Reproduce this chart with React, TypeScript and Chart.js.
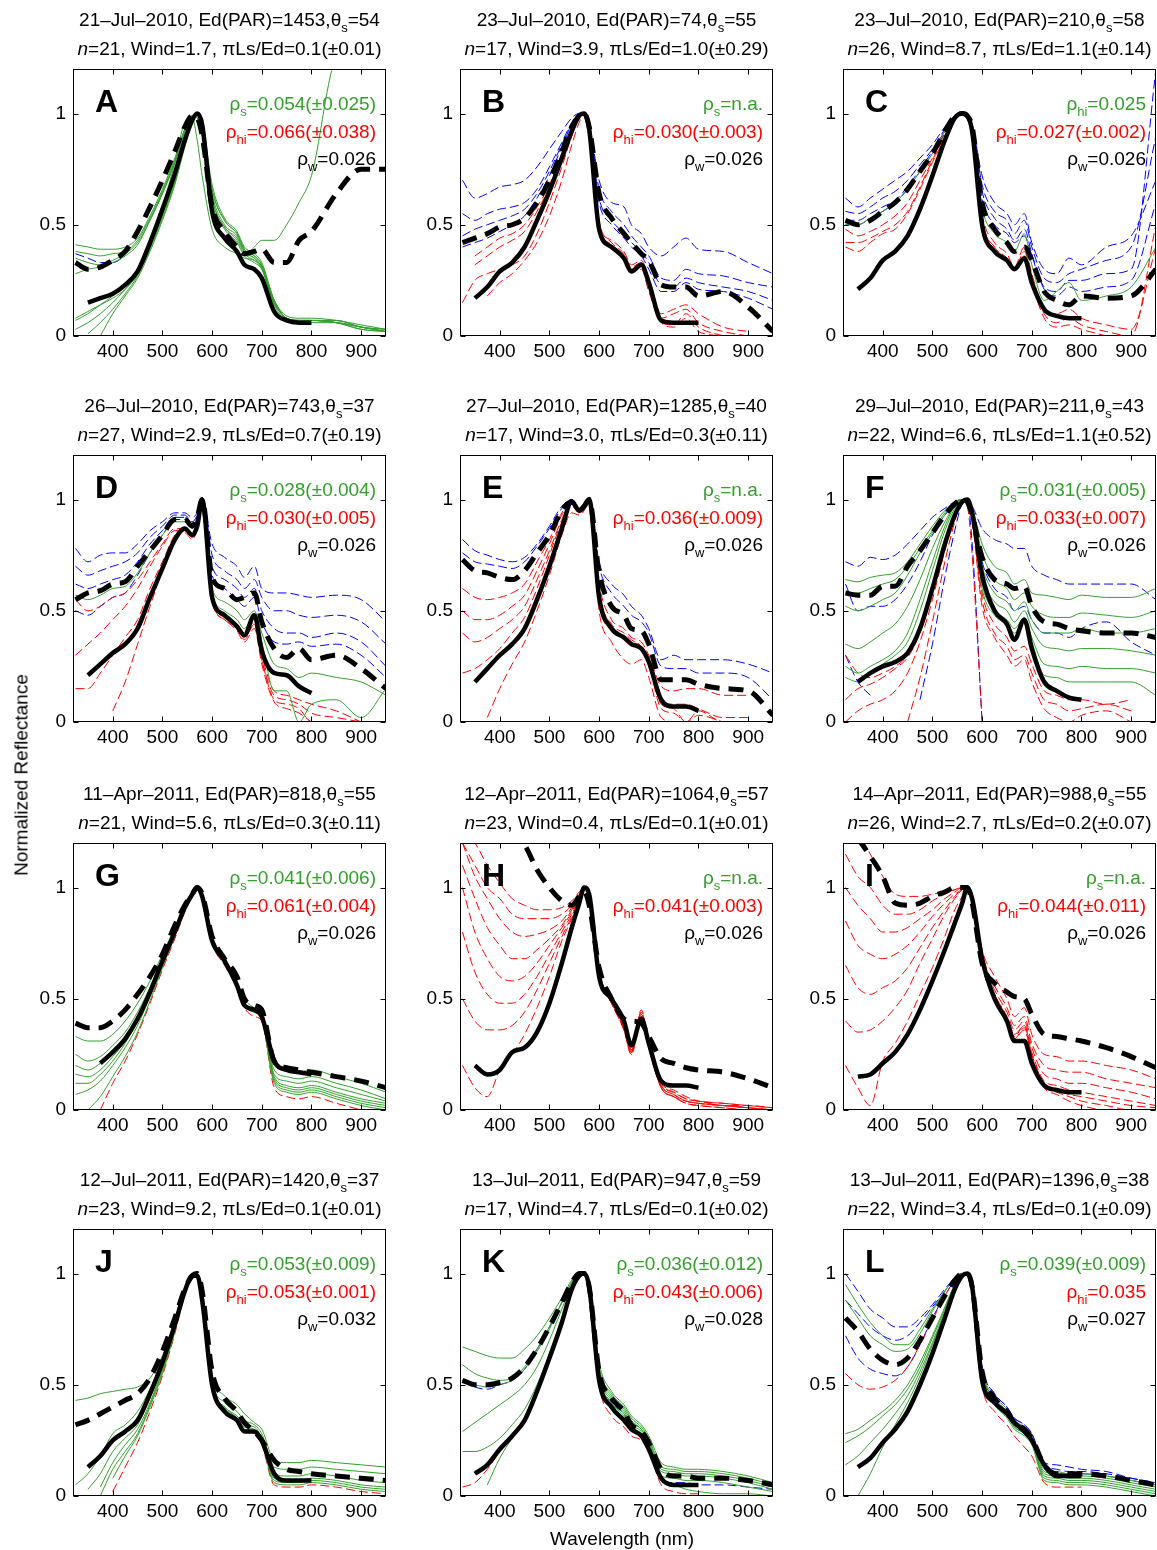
import React, { useEffect, useRef } from 'react';
import { Chart, registerables } from 'chart.js';
Chart.register(...registerables);

const FAM = '"Liberation Sans", Arial, Helvetica, sans-serif';
const GREEN = '#33a02c';
const RED = '#ff0000';
const BLUE = '#0000ff';

// wavelength grid (nm)
const WL = [325, 350, 375, 400, 425, 450, 475, 500, 525, 545, 560, 570, 580, 600, 625, 650, 665, 685, 700, 725, 750, 775, 800, 850, 900, 950];
const X_TICKS = [400, 500, 600, 700, 800, 900];
const Y_TICKS = [0, 0.5, 1];

const LETTERS = ['A', 'B', 'C', 'D', 'E', 'F', 'G', 'H', 'I', 'J', 'K', 'L'];
const DATES = ['21–Jul–2010', '23–Jul–2010', '23–Jul–2010', '26–Jul–2010', '27–Jul–2010', '29–Jul–2010', '11–Apr–2011', '12–Apr–2011', '14–Apr–2011', '12–Jul–2011', '13–Jul–2011', '13–Jul–2011'];
const ED_PAR = ['1453', '74', '210', '743', '1285', '211', '818', '1064', '988', '1420', '947', '1396'];
const THETA_S = ['54', '55', '58', '37', '40', '43', '55', '57', '55', '37', '59', '38'];
const N_OBS = ['21', '17', '26', '27', '17', '22', '21', '23', '26', '23', '17', '22'];
const WIND = ['1.7', '3.9', '8.7', '2.9', '3.0', '6.6', '5.6', '0.4', '2.7', '9.2', '4.7', '3.4'];
const LS_ED = ['0.1(±0.01)', '1.0(±0.29)', '1.1(±0.14)', '0.7(±0.19)', '0.3(±0.11)', '1.1(±0.52)', '0.3(±0.11)', '0.1(±0.01)', '0.2(±0.07)', '0.1(±0.01)', '0.1(±0.02)', '0.1(±0.09)'];
const RHO_S_SUB = ['s', 's', 'hi', 's', 's', 's', 's', 's', 's', 's', 's', 's'];
const RHO_S = ['0.054(±0.025)', 'n.a.', '0.025', '0.028(±0.004)', 'n.a.', '0.031(±0.005)', '0.041(±0.006)', 'n.a.', 'n.a.', '0.053(±0.009)', '0.036(±0.012)', '0.039(±0.009)'];
const RHO_HI = ['0.066(±0.038)', '0.030(±0.003)', '0.027(±0.002)', '0.030(±0.005)', '0.036(±0.009)', '0.033(±0.007)', '0.061(±0.004)', '0.041(±0.003)', '0.044(±0.011)', '0.053(±0.001)', '0.043(±0.006)', '0.035'];
const RHO_W = ['0.026', '0.026', '0.026', '0.026', '0.026', '0.026', '0.026', '0.026', '0.026', '0.032', '0.028', '0.027'];

// ---------- Panel A ----------
const A_SOLID = [null, 0.15, 0.17, 0.19, 0.23, 0.29, 0.42, 0.57, 0.73, 0.88, 0.97, 1.0, 0.95, 0.56, 0.44, 0.38, 0.32, 0.30, 0.26, 0.11, 0.07, 0.06, 0.06];
const A_DASHED = [0.33, 0.30, 0.31, 0.34, 0.38, 0.47, 0.58, 0.70, 0.83, 0.94, 0.99, 0.98, 0.90, 0.58, 0.47, 0.40, 0.37, 0.38, 0.39, 0.33, 0.33, 0.43, 0.47, 0.64, 0.75, 0.75];
const A_GREEN = [
  [0.41, 0.40, 0.39, 0.39, 0.40, 0.44, 0.54, 0.66, 0.80, 0.93, 0.99, 0.98, 0.90, 0.56, 0.44, 0.38, 0.36, 0.40, 0.43, 0.43, 0.50, 0.60, 0.72, 1.25, 1.3, 1.3],
  [0.38, 0.37, 0.36, 0.37, 0.38, 0.43, 0.53, 0.65, 0.79, 0.93, 0.99, 0.98, 0.92, 0.60, 0.48, 0.42, 0.36, 0.33, 0.30, 0.15, 0.08, 0.07, 0.07, 0.07, 0.04, 0.03],
  [0.35, 0.33, 0.32, 0.34, 0.37, 0.42, 0.52, 0.64, 0.78, 0.92, 0.99, 0.99, 0.93, 0.62, 0.49, 0.43, 0.37, 0.34, 0.31, 0.15, 0.08, 0.07, 0.07, 0.06, 0.04, 0.02],
  [0.28, 0.30, 0.31, 0.33, 0.36, 0.41, 0.52, 0.64, 0.78, 0.92, 0.99, 0.99, 0.94, 0.62, 0.49, 0.44, 0.38, 0.35, 0.31, 0.16, 0.09, 0.08, 0.08, 0.07, 0.05, 0.03],
  [0.07, 0.10, 0.14, 0.18, 0.23, 0.30, 0.42, 0.56, 0.72, 0.88, 0.98, 1.0, 0.95, 0.64, 0.50, 0.45, 0.38, 0.35, 0.31, 0.15, 0.08, 0.07, 0.07, 0.07, 0.04, 0.03],
  [0.03, 0.06, 0.10, 0.15, 0.21, 0.28, 0.40, 0.54, 0.70, 0.87, 0.97, 1.0, 0.96, 0.66, 0.52, 0.46, 0.39, 0.36, 0.32, 0.16, 0.08, 0.07, 0.07, 0.06, 0.04, 0.02],
  [null, 0.01, 0.06, 0.12, 0.19, 0.27, 0.39, 0.53, 0.69, 0.86, 0.97, 1.0, 0.96, 0.66, 0.52, 0.46, 0.39, 0.36, 0.32, 0.16, 0.08, 0.07, 0.07, 0.06, 0.03, 0.02],
  [null, null, 0.0, 0.10, 0.18, 0.26, 0.38, 0.52, 0.68, 0.85, 0.96, 1.0, 0.97, 0.68, 0.53, 0.47, 0.40, 0.37, 0.33, 0.16, 0.08, 0.07, 0.07, 0.06, 0.03, 0.02],
  [0.08, 0.11, 0.14, 0.17, 0.21, 0.28, 0.42, 0.58, 0.78, 0.96, 0.98, 0.88, 0.72, 0.48, 0.40, 0.37, 0.35, 0.34, 0.30, 0.14, 0.07, 0.06, 0.06, 0.06, 0.04, 0.02],
];
const A_RED: number[][] = [];
const A_BLUE = [[0.37, 0.35, 0.33, 0.33, 0.36]];

// ---------- Panel B ----------
const B_SOLID = [null, 0.17, 0.22, 0.29, 0.33, 0.40, 0.52, 0.65, 0.80, 0.92, 0.99, 1.0, 0.93, 0.48, 0.40, 0.35, 0.29, 0.32, 0.24, 0.07, 0.06, 0.06, 0.06];
const B_DASHED = [0.42, 0.44, 0.46, 0.49, 0.50, 0.53, 0.60, 0.70, 0.83, 0.94, 0.99, 1.0, 0.94, 0.64, 0.53, 0.46, 0.42, 0.37, 0.34, 0.23, 0.22, 0.22, 0.18, 0.20, 0.13, 0.02];
const B_GREEN: number[][] = [];
const B_RED = [
  [null, 0.36, 0.40, 0.44, 0.46, 0.50, 0.58, 0.68, 0.82, 0.94, 0.99, 1.0, 0.93, 0.50, 0.43, 0.38, 0.32, 0.34, 0.26, 0.10, 0.12, 0.14, 0.10, 0.04, 0.02],
  [null, 0.32, 0.36, 0.40, 0.43, 0.47, 0.56, 0.67, 0.81, 0.93, 0.99, 1.0, 0.93, 0.52, 0.42, 0.37, 0.31, 0.33, 0.24, 0.08, 0.10, 0.12, 0.06, 0.02, 0.0],
  [0.15, 0.25, 0.28, 0.30, 0.32, 0.36, 0.46, 0.60, 0.76, 0.90, 0.98, 1.0, 0.92, 0.48, 0.40, 0.35, 0.30, 0.32, 0.22, 0.06, 0.05, 0.10, 0.04, 0.0],
  [null, null, 0.18, 0.24, 0.28, 0.34, 0.42, 0.54, 0.70, 0.86, 0.96, 1.0, 0.92, 0.50, 0.41, 0.36, 0.30, 0.30, 0.20, 0.06, 0.04, 0.08, 0.02, 0.0],
];
const B_BLUE = [
  [0.70, 0.62, 0.64, 0.67, 0.68, 0.70, 0.76, 0.84, 0.92, 0.98, 1.0, 0.99, 0.95, 0.70, 0.60, 0.58, 0.50, 0.46, 0.40, 0.36, 0.40, 0.44, 0.39, 0.38, 0.33, 0.28],
  [0.55, 0.52, 0.55, 0.57, 0.58, 0.60, 0.66, 0.76, 0.87, 0.96, 1.0, 0.99, 0.95, 0.66, 0.56, 0.50, 0.45, 0.40, 0.36, 0.26, 0.25, 0.30, 0.28, 0.27, 0.24, 0.22],
  [0.45, 0.48, 0.50, 0.52, 0.54, 0.57, 0.64, 0.74, 0.86, 0.95, 0.99, 1.0, 0.94, 0.62, 0.52, 0.46, 0.42, 0.38, 0.33, 0.23, 0.22, 0.26, 0.24, 0.22, 0.20, 0.16],
  [0.40, 0.42, 0.44, 0.47, 0.50, 0.54, 0.62, 0.72, 0.85, 0.95, 1.0, 1.0, 0.93, 0.60, 0.50, 0.44, 0.40, 0.36, 0.30, 0.20, 0.20, 0.24, 0.21, 0.20, 0.17, 0.12],
];

// ---------- Panel C ----------
const C_SOLID = [null, 0.21, 0.26, 0.34, 0.38, 0.45, 0.57, 0.72, 0.88, 0.98, 1.0, 0.99, 0.92, 0.50, 0.38, 0.34, 0.30, 0.35, 0.24, 0.12, 0.09, 0.08, 0.08];
const C_DASHED = [0.52, 0.50, 0.52, 0.56, 0.60, 0.66, 0.74, 0.82, 0.92, 0.99, 1.0, 0.99, 0.94, 0.60, 0.48, 0.42, 0.38, 0.40, 0.34, 0.20, 0.16, 0.14, 0.18, 0.17, 0.18, 0.30];
const C_GREEN = [
  [0.50, 0.50, 0.53, 0.56, 0.60, 0.66, 0.74, 0.82, 0.92, 0.98, 1.0, 0.99, 0.94, 0.58, 0.46, 0.42, 0.38, 0.46, 0.32, 0.16, 0.20, 0.24, 0.16, 0.18, 0.22, 0.40],
];
const C_RED = [
  [0.48, 0.45, 0.47, 0.50, 0.54, 0.60, 0.70, 0.80, 0.91, 0.98, 1.0, 0.99, 0.94, 0.55, 0.42, 0.37, 0.31, 0.40, 0.28, 0.12, 0.10, 0.12, 0.08, 0.05, 0.03, 0.40],
  [0.42, 0.42, 0.44, 0.47, 0.50, 0.56, 0.67, 0.79, 0.90, 0.98, 1.0, 0.99, 0.93, 0.52, 0.40, 0.35, 0.30, 0.38, 0.26, 0.10, 0.06, 0.08, 0.05, 0.02, 0.0, 0.50],
  [0.40, 0.38, 0.42, 0.46, 0.48, 0.55, 0.66, 0.78, 0.89, 0.97, 1.0, 0.99, 0.93, 0.52, 0.40, 0.34, 0.30, 0.36, 0.24, 0.08, 0.04, 0.05, 0.03, 0.0],
];
const C_BLUE = [
  [0.62, 0.58, 0.62, 0.66, 0.70, 0.74, 0.80, 0.86, 0.94, 0.99, 1.0, 0.99, 0.95, 0.72, 0.60, 0.55, 0.50, 0.55, 0.42, 0.30, 0.28, 0.35, 0.32, 0.40, 0.45, 0.70],
  [0.56, 0.55, 0.58, 0.62, 0.65, 0.70, 0.77, 0.84, 0.93, 0.99, 1.0, 0.99, 0.95, 0.68, 0.56, 0.52, 0.46, 0.52, 0.40, 0.26, 0.24, 0.28, 0.30, 0.34, 0.40, 0.90],
  [0.52, 0.52, 0.55, 0.58, 0.61, 0.67, 0.75, 0.83, 0.92, 0.98, 1.0, 0.99, 0.95, 0.65, 0.53, 0.48, 0.43, 0.48, 0.37, 0.22, 0.20, 0.25, 0.25, 0.28, 0.30, 1.2],
  [0.50, 0.50, 0.53, 0.56, 0.60, 0.66, 0.74, 0.82, 0.91, 0.98, 1.0, 0.99, 0.94, 0.62, 0.50, 0.46, 0.42, 0.45, 0.36, 0.21, 0.18, 0.22, 0.20, 0.22, 0.25, 0.60],
];

// ---------- Panel D ----------
const D_SOLID = [null, 0.21, 0.26, 0.31, 0.35, 0.42, 0.56, 0.69, 0.82, 0.87, 0.84, 0.88, 1.0, 0.56, 0.48, 0.43, 0.39, 0.48, 0.32, 0.22, 0.21, 0.16, 0.13];
const D_DASHED = [0.55, 0.58, 0.59, 0.62, 0.63, 0.70, 0.77, 0.84, 0.91, 0.91, 0.88, 0.92, 1.0, 0.65, 0.60, 0.55, 0.56, 0.58, 0.45, 0.33, 0.29, 0.33, 0.28, 0.30, 0.24, 0.15];
const D_GREEN = [
  [0.57, 0.55, 0.57, 0.60, 0.61, 0.67, 0.76, 0.84, 0.90, 0.90, 0.87, 0.91, 1.0, 0.60, 0.54, 0.50, 0.46, 0.50, 0.40, 0.26, 0.24, 0.20, 0.22, 0.20, 0.18, 0.12],
  [null, null, null, null, null, null, null, null, null, null, null, 0.90, 1.0, 0.58, 0.50, 0.46, 0.42, 0.48, 0.36, 0.14, 0.14, 0.0, 0.08, 0.10, 0.02, 0.15],
];
const D_RED = [
  [0.55, 0.50, 0.52, 0.56, 0.58, 0.64, 0.72, 0.80, 0.87, 0.87, 0.84, 0.88, 1.0, 0.56, 0.48, 0.43, 0.40, 0.45, 0.30, 0.14, 0.12, 0.10, 0.08, 0.05, 0.0],
  [0.30, 0.35, 0.40, 0.46, 0.52, 0.60, 0.70, 0.79, 0.86, 0.86, 0.83, 0.88, 1.0, 0.55, 0.47, 0.42, 0.38, 0.44, 0.28, 0.12, 0.10, 0.08, 0.04, 0.02, 0.0],
  [0.15, 0.15, 0.22, 0.30, 0.38, 0.46, 0.60, 0.72, 0.84, 0.86, 0.83, 0.87, 1.0, 0.55, 0.46, 0.42, 0.37, 0.44, 0.28, 0.10, 0.08, 0.06, 0.0, 0.0],
  [null, null, null, 0.05, 0.18, 0.35, 0.52, 0.68, 0.82, 0.85, 0.82, 0.87, 1.0, 0.54, 0.46, 0.41, 0.36, 0.42, 0.26, 0.09, 0.06, 0.04, 0.0],
];
const D_BLUE = [
  [0.78, 0.72, 0.75, 0.76, 0.76, 0.80, 0.86, 0.90, 0.94, 0.94, 0.92, 0.94, 1.0, 0.80, 0.74, 0.70, 0.65, 0.70, 0.60, 0.58, 0.58, 0.57, 0.56, 0.57, 0.55, 0.45],
  [0.70, 0.66, 0.68, 0.70, 0.72, 0.76, 0.83, 0.88, 0.93, 0.93, 0.90, 0.93, 1.0, 0.75, 0.68, 0.64, 0.60, 0.64, 0.56, 0.50, 0.50, 0.48, 0.47, 0.48, 0.45, 0.35],
  [0.62, 0.60, 0.62, 0.64, 0.66, 0.72, 0.80, 0.86, 0.92, 0.92, 0.89, 0.92, 1.0, 0.70, 0.64, 0.60, 0.56, 0.60, 0.50, 0.42, 0.40, 0.40, 0.38, 0.40, 0.36, 0.25],
  [0.50, 0.48, 0.52, 0.56, 0.58, 0.66, 0.76, 0.84, 0.91, 0.91, 0.88, 0.92, 1.0, 0.66, 0.60, 0.55, 0.52, 0.56, 0.45, 0.36, 0.35, 0.36, 0.34, 0.35, 0.30, 0.20],
];

// ---------- Panel E ----------
const E_SOLID = [null, 0.18, 0.24, 0.30, 0.35, 0.42, 0.55, 0.70, 0.87, 0.99, 0.95, 0.97, 1.0, 0.56, 0.42, 0.38, 0.35, 0.33, 0.27, 0.10, 0.07, 0.07, 0.05];
const E_DASHED = [0.73, 0.68, 0.67, 0.65, 0.64, 0.68, 0.76, 0.84, 0.95, 0.99, 0.95, 0.97, 1.0, 0.67, 0.52, 0.48, 0.42, 0.41, 0.35, 0.19, 0.19, 0.19, 0.17, 0.15, 0.14, 0.03];
const E_GREEN: number[][] = [];
const E_RED = [
  [0.60, 0.56, 0.55, 0.56, 0.58, 0.62, 0.72, 0.82, 0.94, 0.99, 0.95, 0.97, 1.0, 0.62, 0.46, 0.42, 0.38, 0.36, 0.30, 0.16, 0.14, 0.15, 0.15, 0.12, 0.12],
  [0.50, 0.46, 0.46, 0.48, 0.52, 0.57, 0.68, 0.80, 0.93, 0.98, 0.95, 0.97, 1.0, 0.58, 0.44, 0.40, 0.37, 0.34, 0.28, 0.10, 0.08, 0.08, 0.06, 0.02, 0.02],
  [0.40, 0.36, 0.38, 0.42, 0.46, 0.52, 0.64, 0.77, 0.91, 0.98, 0.95, 0.97, 1.0, 0.56, 0.42, 0.39, 0.36, 0.34, 0.27, 0.08, 0.06, 0.0, 0.05, 0.0, 0.0],
  [0.22, 0.24, 0.28, 0.33, 0.40, 0.47, 0.60, 0.75, 0.90, 0.97, 0.94, 0.96, 1.0, 0.54, 0.41, 0.38, 0.35, 0.33, 0.26, 0.06, 0.04, 0.0, 0.03, 0.0],
  [null, null, 0.02, 0.15, 0.26, 0.36, 0.50, 0.66, 0.84, 0.94, 0.93, 0.95, 1.0, 0.50, 0.36, 0.28, 0.26, 0.28, 0.20, 0.02, 0.0],
];
const E_BLUE = [
  [0.82, 0.77, 0.75, 0.73, 0.72, 0.74, 0.80, 0.88, 0.97, 1.0, 0.96, 0.98, 1.0, 0.72, 0.62, 0.57, 0.52, 0.48, 0.42, 0.28, 0.30, 0.28, 0.28, 0.28, 0.26, 0.22],
  [0.76, 0.72, 0.71, 0.70, 0.69, 0.72, 0.79, 0.87, 0.96, 1.0, 0.96, 0.98, 1.0, 0.70, 0.58, 0.52, 0.48, 0.45, 0.40, 0.25, 0.24, 0.24, 0.22, 0.22, 0.20, 0.10],
];

// ---------- Panel F ----------
const F_SOLID = [null, 0.18, 0.22, 0.25, 0.27, 0.31, 0.42, 0.60, 0.80, 0.93, 0.99, 1.0, 0.94, 0.66, 0.50, 0.44, 0.37, 0.46, 0.33, 0.18, 0.14, 0.11, 0.10];
const F_DASHED = [0.58, 0.57, 0.57, 0.61, 0.61, 0.70, 0.77, 0.85, 0.93, 0.98, 1.0, 0.99, 0.93, 0.74, 0.64, 0.62, 0.60, 0.61, 0.52, 0.45, 0.44, 0.42, 0.41, 0.40, 0.40, 0.38];
const F_GREEN = [
  [0.64, 0.63, 0.65, 0.66, 0.67, 0.72, 0.80, 0.88, 0.95, 0.99, 1.0, 0.99, 0.96, 0.80, 0.70, 0.67, 0.62, 0.64, 0.58, 0.57, 0.56, 0.55, 0.57, 0.56, 0.56, 0.60],
  [0.58, 0.58, 0.60, 0.62, 0.64, 0.70, 0.78, 0.86, 0.94, 0.99, 1.0, 0.99, 0.95, 0.76, 0.64, 0.60, 0.55, 0.58, 0.52, 0.48, 0.47, 0.47, 0.49, 0.48, 0.47, 0.50],
  [0.52, 0.50, 0.52, 0.55, 0.58, 0.66, 0.76, 0.85, 0.93, 0.98, 1.0, 0.99, 0.95, 0.70, 0.58, 0.54, 0.50, 0.54, 0.46, 0.40, 0.40, 0.40, 0.42, 0.40, 0.40, 0.42],
  [0.35, 0.33, 0.36, 0.40, 0.44, 0.52, 0.64, 0.78, 0.90, 0.97, 1.0, 0.99, 0.94, 0.66, 0.54, 0.50, 0.45, 0.50, 0.42, 0.34, 0.33, 0.32, 0.33, 0.33, 0.32, 0.30],
  [0.25, 0.22, 0.25, 0.28, 0.32, 0.40, 0.55, 0.72, 0.88, 0.97, 1.0, 0.99, 0.94, 0.62, 0.50, 0.46, 0.42, 0.47, 0.38, 0.26, 0.25, 0.24, 0.25, 0.24, 0.24, 0.22],
  [0.20, 0.18, 0.22, 0.26, 0.30, 0.36, 0.50, 0.68, 0.86, 0.96, 1.0, 0.99, 0.94, 0.60, 0.48, 0.44, 0.40, 0.46, 0.36, 0.21, 0.20, 0.18, 0.18, 0.18, 0.18, 0.12],
];
const F_RED = [
  [0.30, 0.22, 0.20, 0.22, 0.25, 0.30, 0.42, 0.60, 0.80, 0.93, 0.99, 0.99, 0.92, 0.58, 0.44, 0.38, 0.32, 0.34, 0.26, 0.14, 0.12, 0.10, 0.10, 0.08, 0.10],
  [0.10, 0.15, 0.17, 0.20, 0.24, 0.29, 0.40, 0.58, 0.79, 0.92, 0.99, 0.99, 0.91, 0.55, 0.40, 0.34, 0.28, 0.30, 0.22, 0.10, 0.08, 0.05, 0.06, 0.08, 0.05],
  [0.0, 0.05, 0.08, 0.10, 0.14, 0.22, 0.36, 0.55, 0.77, 0.92, 0.99, 0.99, 0.90, 0.52, 0.38, 0.30, 0.25, 0.28, 0.18, 0.06, 0.02, 0.0, 0.03, 0.05, 0.0],
  [null, null, null, null, null, 0.0, 0.20, 0.45, 0.72, 0.90, 0.99, 0.97, 0.75, 0.0],
];
const F_BLUE = [
  [0.72, 0.70, 0.74, 0.73, 0.75, 0.80, 0.86, 0.92, 0.96, 0.99, 1.0, 0.99, 0.97, 0.87, 0.82, 0.80, 0.78, 0.78, 0.70, 0.66, 0.64, 0.62, 0.62, 0.62, 0.62, 0.55],
  [0.62, 0.50, 0.52, 0.52, 0.55, 0.62, 0.72, 0.84, 0.93, 0.98, 1.0, 0.99, 0.96, 0.72, 0.60, 0.56, 0.50, 0.52, 0.46, 0.40, 0.40, 0.38, 0.42, 0.45, 0.36, 0.30],
  [0.30, 0.18, 0.12, null, null, null, 0.10, 0.35, 0.65, 0.86, 0.98, 0.99, 0.80, 0.0],
];

// ---------- Panel G ----------
const G_SOLID = [null, null, 0.21, 0.26, 0.32, 0.41, 0.53, 0.67, 0.80, 0.91, 0.97, 1.0, 0.96, 0.76, 0.67, 0.56, 0.47, 0.45, 0.42, 0.22, 0.18, 0.17, 0.16];
const G_DASHED = [0.39, 0.37, 0.37, 0.40, 0.45, 0.52, 0.60, 0.70, 0.83, 0.92, 0.97, 1.0, 0.97, 0.78, 0.68, 0.60, 0.50, 0.47, 0.45, 0.22, 0.19, 0.18, 0.17, 0.15, 0.13, 0.10];
const G_GREEN = [
  [0.33, 0.31, 0.31, 0.34, 0.40, 0.48, 0.58, 0.70, 0.82, 0.92, 0.98, 1.0, 0.97, 0.78, 0.68, 0.58, 0.50, 0.46, 0.44, 0.20, 0.18, 0.17, 0.18, 0.15, 0.12, 0.08],
  [0.25, 0.22, 0.24, 0.29, 0.35, 0.44, 0.55, 0.68, 0.81, 0.91, 0.97, 1.0, 0.97, 0.77, 0.67, 0.57, 0.48, 0.45, 0.43, 0.18, 0.15, 0.14, 0.15, 0.12, 0.09, 0.05],
  [0.20, 0.18, 0.21, 0.26, 0.33, 0.42, 0.54, 0.67, 0.80, 0.91, 0.97, 1.0, 0.97, 0.77, 0.67, 0.57, 0.48, 0.45, 0.43, 0.16, 0.13, 0.12, 0.13, 0.10, 0.07, 0.04],
  [0.16, 0.15, 0.18, 0.24, 0.31, 0.41, 0.53, 0.66, 0.80, 0.90, 0.97, 1.0, 0.97, 0.76, 0.66, 0.56, 0.47, 0.44, 0.42, 0.15, 0.11, 0.10, 0.11, 0.08, 0.05, 0.03],
  [0.12, 0.12, 0.16, 0.22, 0.30, 0.40, 0.52, 0.66, 0.79, 0.90, 0.97, 1.0, 0.97, 0.76, 0.66, 0.56, 0.47, 0.44, 0.42, 0.14, 0.10, 0.09, 0.10, 0.07, 0.04, 0.02],
  [0.07, 0.09, 0.13, 0.20, 0.28, 0.38, 0.51, 0.65, 0.79, 0.90, 0.97, 1.0, 0.97, 0.76, 0.66, 0.56, 0.47, 0.44, 0.41, 0.13, 0.09, 0.08, 0.09, 0.06, 0.03, 0.01],
  [null, 0.0, 0.06, 0.15, 0.24, 0.35, 0.49, 0.64, 0.78, 0.90, 0.97, 1.0, 0.97, 0.76, 0.66, 0.56, 0.47, 0.44, 0.41, 0.12, 0.08, 0.07, 0.08, 0.05, 0.02, 0.0],
];
const G_RED = [
  [null, null, 0.0, 0.12, 0.22, 0.34, 0.48, 0.63, 0.77, 0.89, 0.96, 1.0, 0.97, 0.75, 0.65, 0.55, 0.46, 0.42, 0.40, 0.10, 0.06, 0.05, 0.06, 0.03, 0.0],
];
const G_BLUE: number[][] = [];

// ---------- Panel H ----------
const H_SOLID = [null, 0.20, 0.16, 0.18, 0.26, 0.28, 0.35, 0.48, 0.66, 0.82, 0.93, 1.0, 0.97, 0.60, 0.50, 0.40, 0.29, 0.41, 0.30, 0.13, 0.11, 0.11, 0.10];
const H_DASHED = [null, null, null, 1.35, 1.23, 1.19, 1.08, 1.00, 0.94, 0.92, 0.96, 0.98, 0.92, 0.64, 0.50, 0.41, 0.40, 0.39, 0.33, 0.23, 0.21, 0.19, 0.18, 0.17, 0.14, 0.10];
const H_GREEN: number[][] = [];
const H_RED = [
  [1.25, 1.2, 1.1, 1.02, 0.95, 0.92, 0.90, 0.90, 0.91, 0.94, 0.98, 1.0, 0.96, 0.62, 0.50, 0.38, 0.27, 0.45, 0.30, 0.12, 0.09, 0.06, 0.04, 0.03, 0.02, 0.01],
  [1.2, 1.1, 1.0, 0.95, 0.88, 0.86, 0.86, 0.86, 0.88, 0.92, 0.97, 1.0, 0.96, 0.62, 0.50, 0.38, 0.27, 0.44, 0.30, 0.12, 0.08, 0.05, 0.04, 0.03, 0.02, 0.01],
  [1.2, 1.05, 0.95, 0.86, 0.80, 0.78, 0.79, 0.81, 0.85, 0.91, 0.97, 1.0, 0.96, 0.62, 0.49, 0.37, 0.27, 0.44, 0.29, 0.11, 0.08, 0.05, 0.04, 0.02, 0.02, 0.01],
  [1.1, 0.95, 0.82, 0.74, 0.68, 0.68, 0.72, 0.77, 0.83, 0.90, 0.96, 1.0, 0.96, 0.61, 0.49, 0.37, 0.26, 0.43, 0.29, 0.11, 0.07, 0.04, 0.03, 0.02, 0.01, 0.0],
  [1.0, 0.80, 0.68, 0.60, 0.58, 0.60, 0.66, 0.74, 0.82, 0.89, 0.96, 1.0, 0.96, 0.61, 0.49, 0.37, 0.26, 0.43, 0.29, 0.11, 0.07, 0.04, 0.03, 0.02, 0.01, 0.0],
  [0.80, 0.62, 0.52, 0.48, 0.48, 0.52, 0.60, 0.70, 0.80, 0.88, 0.95, 1.0, 0.96, 0.61, 0.48, 0.36, 0.26, 0.42, 0.28, 0.10, 0.06, 0.04, 0.03, 0.02, 0.01, 0.0],
  [0.50, 0.40, 0.36, 0.36, 0.38, 0.44, 0.54, 0.66, 0.78, 0.87, 0.95, 1.0, 0.96, 0.60, 0.48, 0.36, 0.25, 0.42, 0.28, 0.10, 0.06, 0.03, 0.02, 0.01, 0.0, 0.0],
  [0.20, 0.10, 0.06, 0.18, 0.25, 0.34, 0.46, 0.60, 0.76, 0.86, 0.94, 1.0, 0.96, 0.60, 0.48, 0.36, 0.25, 0.42, 0.28, 0.10, 0.06, 0.03, 0.02, 0.01, 0.0, 0.0],
];
const H_BLUE: number[][] = [];

// ---------- Panel I ----------
const I_SOLID = [null, 0.15, 0.16, 0.21, 0.26, 0.34, 0.45, 0.58, 0.72, 0.84, 0.93, 1.0, 0.95, 0.68, 0.50, 0.40, 0.31, 0.31, 0.21, 0.11, 0.09, 0.08, 0.08];
const I_DASHED = [null, 1.22, 1.14, 1.05, 0.93, 0.92, 0.93, 0.96, 0.98, 1.0, 1.0, 1.0, 0.93, 0.66, 0.57, 0.53, 0.51, 0.50, 0.43, 0.34, 0.33, 0.32, 0.31, 0.28, 0.24, 0.19];
const I_GREEN: number[][] = [];
const I_RED = [
  [1.3, 1.25, 1.15, 1.05, 0.97, 0.96, 0.96, 0.97, 0.98, 0.99, 1.0, 1.0, 0.96, 0.72, 0.60, 0.50, 0.42, 0.46, 0.34, 0.25, 0.24, 0.22, 0.22, 0.20, 0.18, 0.14],
  [1.15, 1.05, 1.0, 0.92, 0.88, 0.88, 0.90, 0.94, 0.97, 0.99, 1.0, 1.0, 0.96, 0.70, 0.56, 0.46, 0.38, 0.42, 0.30, 0.20, 0.18, 0.17, 0.17, 0.14, 0.12, 0.10],
  [1.0, 0.92, 0.86, 0.80, 0.80, 0.82, 0.86, 0.90, 0.95, 0.98, 1.0, 1.0, 0.96, 0.68, 0.54, 0.44, 0.36, 0.40, 0.28, 0.16, 0.14, 0.12, 0.12, 0.10, 0.08, 0.05],
  [0.85, 0.74, 0.70, 0.68, 0.70, 0.74, 0.80, 0.87, 0.93, 0.97, 0.99, 1.0, 0.96, 0.67, 0.52, 0.42, 0.34, 0.38, 0.26, 0.13, 0.11, 0.09, 0.08, 0.06, 0.04, 0.02],
  [0.65, 0.55, 0.52, 0.55, 0.58, 0.64, 0.73, 0.82, 0.90, 0.96, 0.99, 1.0, 0.96, 0.66, 0.52, 0.41, 0.33, 0.38, 0.25, 0.12, 0.09, 0.07, 0.06, 0.04, 0.02, 0.01],
  [0.40, 0.35, 0.36, 0.40, 0.46, 0.54, 0.66, 0.77, 0.88, 0.95, 0.99, 1.0, 0.96, 0.66, 0.51, 0.40, 0.32, 0.37, 0.24, 0.11, 0.08, 0.06, 0.04, 0.02, 0.0, 0.0],
  [0.20, 0.10, 0.02, 0.22, 0.30, 0.40, 0.52, 0.64, 0.78, 0.90, 0.96, 1.0, 0.96, 0.65, 0.50, 0.40, 0.32, 0.36, 0.24, 0.10, 0.07, 0.04, 0.02, 0.0, 0.0],
];
const I_BLUE: number[][] = [];

// ---------- Panel J ----------
const J_SOLID = [null, 0.13, 0.18, 0.25, 0.29, 0.34, 0.46, 0.60, 0.77, 0.92, 0.99, 0.99, 0.88, 0.50, 0.38, 0.34, 0.29, 0.29, 0.25, 0.10, 0.07, 0.07, 0.07];
const J_DASHED = [0.32, 0.34, 0.37, 0.40, 0.43, 0.46, 0.53, 0.65, 0.80, 0.93, 0.99, 1.0, 0.92, 0.56, 0.44, 0.38, 0.33, 0.29, 0.25, 0.16, 0.12, 0.11, 0.10, 0.09, 0.08, 0.07];
const J_GREEN = [
  [0.43, 0.44, 0.46, 0.47, 0.48, 0.49, 0.53, 0.63, 0.78, 0.93, 0.99, 1.0, 0.93, 0.55, 0.45, 0.41, 0.37, 0.33, 0.30, 0.16, 0.15, 0.15, 0.16, 0.15, 0.14, 0.13],
  [0.05, 0.10, 0.18, 0.28, 0.32, 0.38, 0.48, 0.61, 0.78, 0.92, 0.99, 1.0, 0.92, 0.52, 0.42, 0.38, 0.34, 0.32, 0.28, 0.13, 0.12, 0.12, 0.13, 0.12, 0.11, 0.10],
  [null, 0.03, 0.10, 0.20, 0.26, 0.32, 0.44, 0.58, 0.76, 0.92, 0.99, 1.0, 0.92, 0.50, 0.40, 0.36, 0.32, 0.31, 0.26, 0.10, 0.09, 0.09, 0.10, 0.09, 0.07, 0.06],
  [null, null, 0.04, 0.15, 0.23, 0.30, 0.42, 0.57, 0.75, 0.91, 0.99, 1.0, 0.92, 0.50, 0.40, 0.35, 0.31, 0.30, 0.25, 0.08, 0.07, 0.07, 0.08, 0.07, 0.05, 0.04],
  [null, null, 0.0, 0.12, 0.20, 0.28, 0.41, 0.56, 0.74, 0.91, 0.98, 1.0, 0.92, 0.49, 0.39, 0.35, 0.30, 0.29, 0.24, 0.07, 0.06, 0.06, 0.07, 0.06, 0.04, 0.03],
  [null, null, null, 0.08, 0.18, 0.27, 0.40, 0.55, 0.74, 0.91, 0.98, 1.0, 0.92, 0.49, 0.39, 0.34, 0.30, 0.29, 0.24, 0.06, 0.05, 0.05, 0.06, 0.05, 0.03, 0.02],
];
const J_RED = [
  [null, null, null, 0.02, 0.13, 0.24, 0.38, 0.54, 0.73, 0.90, 0.98, 1.0, 0.91, 0.48, 0.38, 0.33, 0.29, 0.28, 0.23, 0.05, 0.04, 0.04, 0.05, 0.04, 0.02, 0.01],
];
const J_BLUE: number[][] = [];

// ---------- Panel K ----------
const K_SOLID = [null, 0.10, 0.14, 0.21, 0.27, 0.34, 0.47, 0.62, 0.78, 0.93, 0.99, 1.0, 0.94, 0.52, 0.40, 0.34, 0.30, 0.27, 0.21, 0.08, 0.05, 0.05, 0.05];
const K_DASHED = [0.52, 0.50, 0.50, 0.51, 0.53, 0.58, 0.66, 0.76, 0.87, 0.96, 1.0, 1.0, 0.94, 0.56, 0.44, 0.38, 0.32, 0.29, 0.24, 0.12, 0.09, 0.09, 0.08, 0.08, 0.07, 0.05];
const K_GREEN = [
  [0.67, 0.65, 0.63, 0.62, 0.62, 0.66, 0.72, 0.80, 0.89, 0.97, 1.0, 1.0, 0.95, 0.60, 0.47, 0.41, 0.36, 0.32, 0.27, 0.15, 0.13, 0.12, 0.12, 0.11, 0.09, 0.06],
  [0.59, 0.55, 0.53, 0.52, 0.53, 0.58, 0.66, 0.76, 0.87, 0.96, 1.0, 1.0, 0.95, 0.58, 0.46, 0.40, 0.35, 0.31, 0.26, 0.13, 0.12, 0.11, 0.11, 0.10, 0.08, 0.05],
  [0.52, 0.50, 0.49, 0.50, 0.52, 0.57, 0.65, 0.75, 0.87, 0.96, 1.0, 1.0, 0.95, 0.57, 0.45, 0.39, 0.34, 0.30, 0.25, 0.12, 0.11, 0.10, 0.10, 0.09, 0.07, 0.04],
  [0.29, 0.33, 0.37, 0.41, 0.45, 0.50, 0.58, 0.70, 0.84, 0.95, 1.0, 1.0, 0.94, 0.56, 0.44, 0.38, 0.33, 0.30, 0.24, 0.11, 0.10, 0.09, 0.09, 0.08, 0.06, 0.03],
  [0.20, 0.20, 0.22, 0.26, 0.32, 0.39, 0.50, 0.64, 0.80, 0.94, 1.0, 1.0, 0.94, 0.55, 0.43, 0.37, 0.32, 0.29, 0.23, 0.09, 0.08, 0.07, 0.07, 0.06, 0.04, 0.02],
  [null, null, 0.05, 0.17, 0.26, 0.34, 0.46, 0.62, 0.78, 0.93, 0.99, 1.0, 0.94, 0.54, 0.42, 0.36, 0.31, 0.28, 0.22, 0.07, 0.05, 0.03, 0.02, 0.01, 0.01, 0.0],
];
const K_RED = [
  [0.04, 0.06, 0.12, 0.20, 0.28, 0.35, 0.47, 0.61, 0.77, 0.92, 0.99, 1.0, 0.93, 0.50, 0.36, 0.31, 0.27, 0.25, 0.20, 0.05, 0.02, 0.01, 0.01],
];
const K_BLUE = [
  [0.52, 0.49, 0.48, 0.50, 0.52, 0.57, 0.66, 0.76, 0.87, 0.96, 1.0, 1.0, 0.94, 0.54, 0.42, 0.37, 0.31, 0.28, 0.22, 0.08, 0.06, 0.06, 0.05, 0.05, 0.04, 0.03],
];

// ---------- Panel L ----------
const L_SOLID = [null, 0.13, 0.17, 0.24, 0.30, 0.38, 0.50, 0.64, 0.80, 0.93, 0.99, 1.0, 0.94, 0.52, 0.42, 0.37, 0.33, 0.29, 0.25, 0.14, 0.09, 0.09, 0.09];
const L_DASHED = [0.80, 0.74, 0.66, 0.61, 0.59, 0.62, 0.70, 0.80, 0.90, 0.97, 1.0, 1.0, 0.94, 0.56, 0.44, 0.38, 0.33, 0.30, 0.26, 0.14, 0.10, 0.10, 0.10, 0.09, 0.07, 0.05];
const L_GREEN = [
  [0.95, 0.86, 0.78, 0.72, 0.68, 0.68, 0.75, 0.84, 0.92, 0.98, 1.0, 1.0, 0.95, 0.57, 0.45, 0.39, 0.34, 0.31, 0.27, 0.12, 0.11, 0.10, 0.10, 0.09, 0.07, 0.05],
  [0.88, 0.80, 0.72, 0.68, 0.65, 0.66, 0.73, 0.83, 0.92, 0.98, 1.0, 1.0, 0.95, 0.56, 0.44, 0.38, 0.33, 0.30, 0.26, 0.11, 0.10, 0.09, 0.09, 0.08, 0.06, 0.04],
  [0.28, 0.30, 0.34, 0.38, 0.43, 0.50, 0.60, 0.72, 0.85, 0.95, 1.0, 1.0, 0.94, 0.55, 0.43, 0.37, 0.32, 0.29, 0.25, 0.10, 0.09, 0.08, 0.08, 0.07, 0.05, 0.03],
  [0.24, 0.27, 0.31, 0.36, 0.41, 0.48, 0.58, 0.71, 0.84, 0.95, 1.0, 1.0, 0.94, 0.54, 0.42, 0.36, 0.31, 0.28, 0.24, 0.09, 0.08, 0.07, 0.07, 0.06, 0.04, 0.02],
  [0.14, 0.18, 0.24, 0.30, 0.37, 0.45, 0.56, 0.69, 0.83, 0.94, 1.0, 1.0, 0.94, 0.54, 0.42, 0.36, 0.31, 0.28, 0.24, 0.08, 0.07, 0.06, 0.06, 0.05, 0.03, 0.01],
  [null, 0.0, 0.10, 0.22, 0.32, 0.42, 0.54, 0.68, 0.82, 0.94, 1.0, 1.0, 0.94, 0.53, 0.41, 0.35, 0.30, 0.27, 0.23, 0.07, 0.06, 0.05, 0.05, 0.04, 0.02, 0.0],
];
const L_RED = [
  [0.55, 0.50, 0.48, 0.49, 0.52, 0.58, 0.68, 0.79, 0.90, 0.97, 1.0, 1.0, 0.94, 0.50, 0.38, 0.32, 0.27, 0.22, 0.18, 0.06, 0.04, 0.04, 0.04],
];
const L_BLUE = [
  [1.0, 0.92, 0.84, 0.80, 0.76, 0.76, 0.80, 0.86, 0.93, 0.98, 1.0, 1.0, 0.95, 0.58, 0.46, 0.40, 0.35, 0.32, 0.28, 0.15, 0.14, 0.13, 0.12, 0.11, 0.08, 0.06],
  [0.88, 0.82, 0.76, 0.72, 0.70, 0.72, 0.78, 0.85, 0.92, 0.98, 1.0, 1.0, 0.95, 0.58, 0.46, 0.40, 0.35, 0.32, 0.28, 0.14, 0.12, 0.11, 0.11, 0.10, 0.08, 0.06],
  [0.72, 0.62, 0.57, 0.55, 0.54, 0.58, 0.68, 0.80, 0.90, 0.97, 1.0, 1.0, 0.94, 0.56, 0.44, 0.38, 0.33, 0.30, 0.26, 0.13, 0.10, 0.10, 0.10, 0.09, 0.07, 0.05],
];

const SOLIDS = [A_SOLID, B_SOLID, C_SOLID, D_SOLID, E_SOLID, F_SOLID, G_SOLID, H_SOLID, I_SOLID, J_SOLID, K_SOLID, L_SOLID];
const DASHEDS = [A_DASHED, B_DASHED, C_DASHED, D_DASHED, E_DASHED, F_DASHED, G_DASHED, H_DASHED, I_DASHED, J_DASHED, K_DASHED, L_DASHED];
const GREENS = [A_GREEN, B_GREEN, C_GREEN, D_GREEN, E_GREEN, F_GREEN, G_GREEN, H_GREEN, I_GREEN, J_GREEN, K_GREEN, L_GREEN];
const REDS = [A_RED, B_RED, C_RED, D_RED, E_RED, F_RED, G_RED, H_RED, I_RED, J_RED, K_RED, L_RED];
const BLUES = [A_BLUE, B_BLUE, C_BLUE, D_BLUE, E_BLUE, F_BLUE, G_BLUE, H_BLUE, I_BLUE, J_BLUE, K_BLUE, L_BLUE];

// layout (page pixels)
const COL_LEFT = [73, 460, 843];
const ROW_TOP = [69, 455, 843, 1229];
const PW = 313;
const PH = 267;
const AXIS_W = 50;
const TITLE_H = 69;
const XAXIS_H = 32;

type Seg = { t: string; sub?: boolean; it?: boolean };

function drawRich(ctx: CanvasRenderingContext2D, segs: Seg[], x: number, y: number, align: string, color: string) {
  const fontFor = (s: Seg) => `${s.it ? 'italic ' : ''}${s.sub ? 13 : 19}px ${FAM}`;
  let w = 0;
  segs.forEach((s) => { ctx.font = fontFor(s); w += ctx.measureText(s.t).width; });
  let cx = align === 'left' ? x : align === 'center' ? x - w / 2 : x - w;
  ctx.textAlign = 'left';
  ctx.textBaseline = 'alphabetic';
  ctx.fillStyle = color;
  segs.forEach((s) => {
    ctx.font = fontFor(s);
    ctx.fillText(s.t, cx, y + (s.sub ? 6 : 0));
    cx += ctx.measureText(s.t).width;
  });
}

function Panel({ i }: { i: number }) {
  const ref = useRef<HTMLCanvasElement>(null);
  const col = i % 3;
  const row = Math.floor(i / 3);
  const L = COL_LEFT[col];
  const T = ROW_TOP[row];
  const padR = Math.min(8, 1157 - (L + PW));
  const W = AXIS_W + PW + padR;
  const H = TITLE_H + PH + XAXIS_H;

  useEffect(() => {
    const mk = (vals: (number | null)[], color: string, width: number, dash: number[]) => ({
      data: WL.map((x, k) => ({ x, y: vals[k] ?? null })),
      borderColor: color,
      borderWidth: width,
      borderDash: dash,
      borderCapStyle: 'butt',
      borderJoinStyle: 'round',
      pointRadius: 0,
      fill: false,
      tension: 0.4,
      cubicInterpolationMode: 'monotone',
      spanGaps: false,
      clip: 0,
    });
    const datasets: any[] = [
      mk(SOLIDS[i], '#000', 4.5, []),
      mk(DASHEDS[i], '#000', 5, [15, 9]),
      ...GREENS[i].map((v) => mk(v, GREEN, 1, [])),
      ...REDS[i].map((v) => mk(v, RED, 1, [9, 4])),
      ...BLUES[i].map((v) => mk(v, BLUE, 1, [9, 4])),
    ];

    const frame = {
      id: 'frame' + i,
      afterDatasetsDraw(chart: any) {
        const { ctx, chartArea: a, scales } = chart;
        ctx.save();
        ctx.strokeStyle = '#000';
        ctx.lineWidth = 1;
        const l = Math.round(a.left) + 0.5, t = Math.round(a.top) + 0.5;
        const r = Math.round(a.right) - 0.5, b = Math.round(a.bottom) - 0.5;
        ctx.strokeRect(l, t, r - l, b - t);
        const tl = 5;
        ctx.beginPath();
        X_TICKS.forEach((v) => {
          const x = Math.round(scales.x.getPixelForValue(v)) + 0.5;
          ctx.moveTo(x, b); ctx.lineTo(x, b - tl);
          ctx.moveTo(x, t); ctx.lineTo(x, t + tl);
        });
        Y_TICKS.forEach((v) => {
          const y = Math.round(scales.y.getPixelForValue(v)) + 0.5;
          ctx.moveTo(l, y); ctx.lineTo(l + tl, y);
          ctx.moveTo(r, y); ctx.lineTo(r - tl, y);
        });
        ctx.stroke();

        // title
        const cx = (a.left + a.right) / 2;
        drawRich(ctx, [
          { t: `${DATES[i]}, Ed(PAR)=${ED_PAR[i]},θ` }, { t: 's', sub: true }, { t: `=${THETA_S[i]}` },
        ], cx, a.top - 43, 'center', '#000');
        drawRich(ctx, [
          { t: 'n', it: true }, { t: `=${N_OBS[i]}, Wind=${WIND[i]}, πLs/Ed=${LS_ED[i]}` },
        ], cx, a.top - 14, 'center', '#000');

        // panel letter
        ctx.font = `bold 32px ${FAM}`;
        ctx.fillStyle = '#000';
        ctx.textAlign = 'left';
        ctx.textBaseline = 'alphabetic';
        ctx.fillText(LETTERS[i], a.left + 22, a.top + 43);

        // rho annotations
        const rx = a.right - 10;
        drawRich(ctx, [{ t: 'ρ' }, { t: RHO_S_SUB[i], sub: true }, { t: `=${RHO_S[i]}` }], rx, a.top + 41, 'right', GREEN);
        drawRich(ctx, [{ t: 'ρ' }, { t: 'hi', sub: true }, { t: `=${RHO_HI[i]}` }], rx, a.top + 69, 'right', RED);
        drawRich(ctx, [{ t: 'ρ' }, { t: 'w', sub: true }, { t: `=${RHO_W[i]}` }], rx, a.top + 96, 'right', '#000');
        ctx.restore();
      },
    };

    const tickFont = { family: FAM, size: 19 };
    const chart = new Chart(ref.current as HTMLCanvasElement, {
      type: 'line',
      data: { datasets },
      options: {
        responsive: false,
        animation: false,
        devicePixelRatio: 1,
        events: [],
        layout: { padding: { top: TITLE_H, right: padR, left: 0, bottom: 0 } },
        plugins: { legend: { display: false }, tooltip: { enabled: false }, title: { display: false } },
        scales: {
          x: {
            type: 'linear',
            min: 320,
            max: 950,
            afterBuildTicks: (s: any) => { s.ticks = X_TICKS.map((v) => ({ value: v })); },
            afterFit: (s: any) => { s.height = XAXIS_H; s.paddingLeft = 0; s.paddingRight = 0; },
            grid: { display: false, drawTicks: false },
            border: { display: false },
            ticks: { font: tickFont, color: '#000', padding: 4, maxRotation: 0, autoSkip: false },
          },
          y: {
            type: 'linear',
            min: 0,
            max: 1.2,
            afterBuildTicks: (s: any) => { s.ticks = Y_TICKS.map((v) => ({ value: v })); },
            afterFit: (s: any) => { s.width = AXIS_W; s.paddingTop = 0; s.paddingBottom = 0; },
            grid: { display: false, drawTicks: false },
            border: { display: false },
            ticks: { font: tickFont, color: '#000', padding: 7, autoSkip: false, callback: (v: any) => String(v) },
          },
        },
      } as any,
      plugins: [frame],
    } as any);
    return () => chart.destroy();
  }, []);

  return (
    <canvas
      ref={ref}
      width={W}
      height={H}
      style={{ position: 'absolute', left: L - AXIS_W, top: T - TITLE_H, width: W, height: H }}
    />
  );
}

export default function App() {
  return (
    <div style={{ position: 'absolute', left: 0, top: 0, width: 1157, height: 1550, overflow: 'hidden', background: '#fff' }}>
      {LETTERS.map((_, i) => <Panel key={i} i={i} />)}
      <div style={{ position: 'absolute', left: 21, top: 775, transform: 'translate(-50%,-50%) rotate(-90deg)', whiteSpace: 'nowrap', font: `19px ${FAM}`, lineHeight: 1, color: '#000' }}>
        Normalized Reflectance
      </div>
      <div style={{ position: 'absolute', left: 622, top: 1538, transform: 'translate(-50%,-50%)', whiteSpace: 'nowrap', font: `19px ${FAM}`, lineHeight: 1, color: '#000' }}>
        Wavelength (nm)
      </div>
    </div>
  );
}
